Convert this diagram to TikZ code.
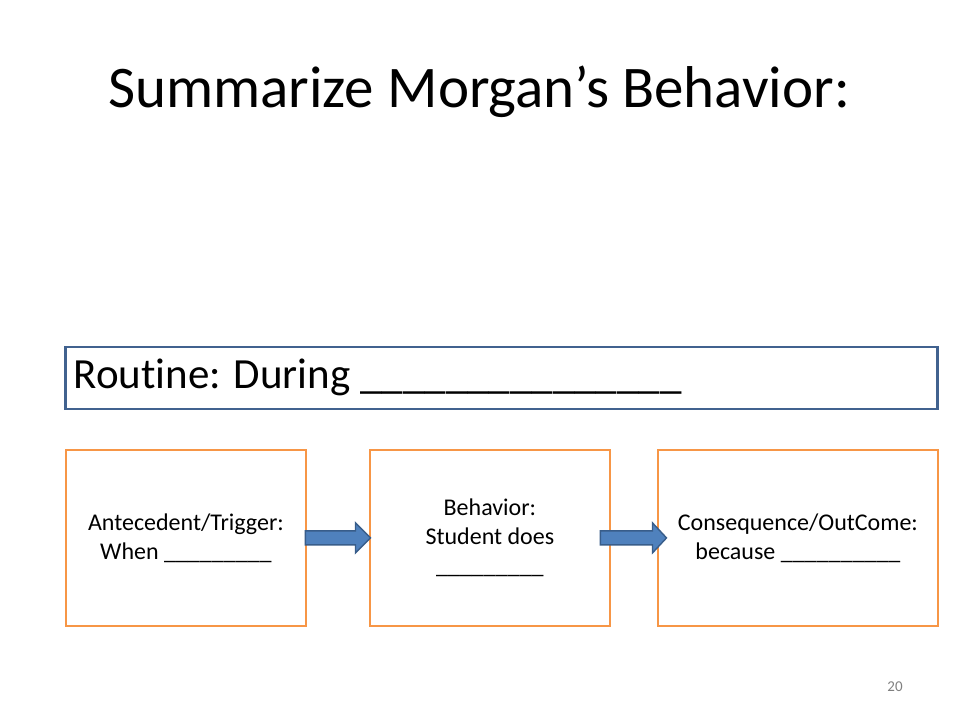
\documentclass[tikz,border=0pt]{standalone}
\usepackage{fontspec}
\setmainfont[Ligatures={NoCommon}]{Carlito}
\usetikzlibrary{calc}
\definecolor{boxorange}{HTML}{F79646}
\definecolor{boxblue}{HTML}{41628F}
\definecolor{arrowfill}{HTML}{4F81BD}
\definecolor{arrowline}{HTML}{385D8A}
\tikzset{
  stagebox/.style={draw=boxorange, line width=2.8pt, fill=white, minimum height=176pt, inner sep=0pt, align=center, font=\fontsize{24}{29}\selectfont},
  blockarrow/.style={fill=arrowfill, draw=arrowline, line width=1.4pt, line join=miter},
}
\begin{document}
\begin{tikzpicture}[x=1pt,y=-1pt]
\useasboundingbox[fill=white] (0,0) rectangle (960,720);
\node[font=\fontsize{59}{70}\selectfont, anchor=center] (title) at (479,92) {Summarize Morgan’s Behavior:};
\node[draw=boxblue, line width=2.8pt, minimum width=872pt, minimum height=62pt, anchor=north west, inner sep=0pt] (routine) at (64,345.5) {};
\node[anchor=west, font=\fontsize{43}{50}\selectfont] (routinetext) at (70,377) {Routine: During \_\_\_\_\_\_\_\_\_\_\_\_\_\_\_};
\node[stagebox, minimum width=240pt, anchor=north west] (ante) at (64.5,448.5) {Antecedent/Trigger:\\When \_\_\_\_\_\_\_\_\_};
\node[stagebox, minimum width=240pt, anchor=north west] (beh) at (368.5,448.5) {Behavior:\\Student does\\\_\_\_\_\_\_\_\_\_};
\node[stagebox, minimum width=280pt, anchor=north west] (cons) at (656.5,448.5) {Consequence/OutCome:\\because \_\_\_\_\_\_\_\_\_\_};
% block arrows
\coordinate (a1s) at ($(ante.east)+(-2,0)$);
\coordinate (a1t) at ($(beh.west)+(2,0)$);
\draw[blockarrow] (a1s) ++(0,-7) -- ($(a1t)+(-15,-7)$) -- ($(a1t)+(-15,-15)$) -- (a1t) -- ($(a1t)+(-15,15)$) -- ($(a1t)+(-15,7)$) -- ($(a1s)+(0,7)$) -- cycle;
\coordinate (a2s) at ($(beh.east)+(-11,0)$);
\coordinate (a2t) at ($(cons.west)+(10,0)$);
\draw[blockarrow] (a2s) ++(0,-7) -- ($(a2t)+(-14,-7)$) -- ($(a2t)+(-14,-15)$) -- (a2t) -- ($(a2t)+(-14,15)$) -- ($(a2t)+(-14,7)$) -- ($(a2s)+(0,7)$) -- cycle;
\node[text=gray, font=\fontsize{15}{18}\selectfont] (pagenum) at (895,687) {20};
\end{tikzpicture}
\end{document}
